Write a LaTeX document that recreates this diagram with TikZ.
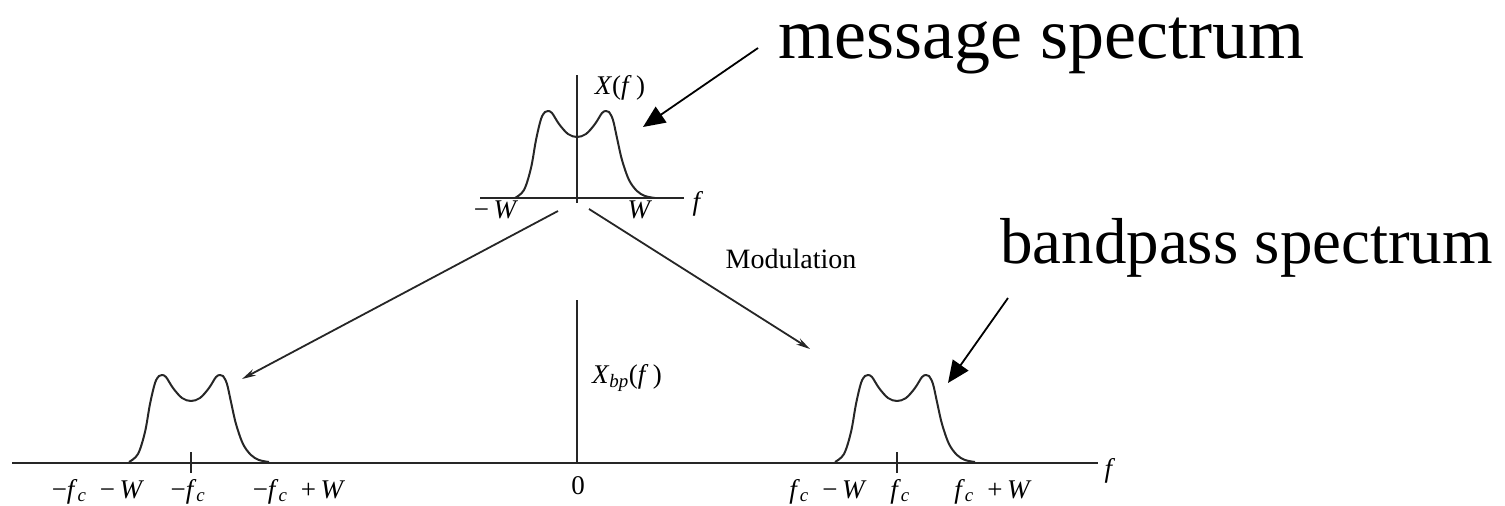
\documentclass[tikz,border=0pt]{standalone}
\usepackage{fontspec}
\setmainfont{Liberation Serif}
\usetikzlibrary{arrows.meta}
\tikzset{
  axisline/.style={line width=2pt, black!85},
  specline/.style={line width=2pt, black!85, line join=round},
  modarrow/.style={line width=1.8pt, black!85, -{Stealth[length=14pt,width=7pt]}},
  callout/.style={line width=1.8pt, -{Triangle[length=22pt,width=19pt]}},
  lbl/.style={font=\fontsize{27}{29}\selectfont, inner sep=0pt},
  biglbl/.style={font=\fontsize{65}{70}\selectfont, inner sep=0pt},
  msglbl/.style={font=\fontsize{72}{76}\selectfont, inner sep=0pt},
}
\newcommand\specbump[2]{%
  \draw[specline, shift={(#1,#2)}] plot[smooth, tension=0.55] coordinates {
    (-62,0) (-53,-8) (-46,-30) (-41,-58) (-36,-79) (-32,-86) (-29,-87)
    (-25,-85) (-18,-74) (-9,-64) (0,-61) (9,-64) (18,-74) (25,-85) (29,-87)
    (32,-86) (36,-78) (40,-60) (45,-38) (52,-18) (60,-7) (68,-2) (78,0)};}
\newcommand\fcsub{\textit{f}\textsubscript{\textit{c}}}
\begin{document}
\begin{tikzpicture}[x=1pt, y=-1pt]
\useasboundingbox (0,0) rectangle (1505,506);
% top spectrum
\draw[axisline] (480,198) -- (684,198);
\draw[axisline] (577,75) -- (577,203);
\specbump{577}{198}
\node[lbl] (xf) at (620,88) {\textit{X}(\textit{f}\,)};
\node[lbl, anchor=base] (ftop) at (698,210) {\textit{f}};
\node[lbl, anchor=base] (mw) at (496,218) {−\,\textit{W}};
\node[lbl, anchor=base] (pw) at (640,218) {\textit{W}};
% bottom spectrum
\draw[axisline] (12,463) -- (1098,463);
\draw[axisline] (577,300) -- (577,463);
\draw[axisline] (191,452) -- (191,473);
\draw[axisline] (897,452) -- (897,473);
\specbump{191}{462}
\specbump{897}{462}
\node[lbl] (xbp) at (627,378) {\textit{X}\textsubscript{\textit{bp}}(\textit{f}\,)};
\node[lbl, anchor=base] (zero) at (578,494) {0};
\node[lbl, anchor=base] (fbot) at (1110,477) {\textit{f}};
\node[lbl, anchor=base] (l1) at (98,498) {−\fcsub\enspace−\,\textit{W}};
\node[lbl, anchor=base] (l2) at (188,498) {−\fcsub};
\node[lbl, anchor=base] (l3) at (299,498) {−\fcsub\enspace+\,\textit{W}};
\node[lbl, anchor=base] (r1) at (828,498) {\fcsub\enspace−\,\textit{W}};
\node[lbl, anchor=base] (r2) at (900,498) {\fcsub};
\node[lbl, anchor=base] (r3) at (993,498) {\fcsub\enspace+\,\textit{W}};
% modulation arrows
\node[font=\fontsize{28}{30}\selectfont, inner sep=0pt] (mod) at (791,259) {Modulation};
\coordinate (ls) at (558,211);
\coordinate (le) at (242,379);
\coordinate (rs) at (589,209);
\coordinate (re) at (810,349);
\draw[modarrow] (ls) -- (le);
\draw[modarrow] (rs) -- (re);
% callouts
\node[msglbl, anchor=base west] (msg) at (778,58) {message spectrum};
\node[biglbl, anchor=base west] (bps) at (1000,263) {bandpass spectrum};
\coordinate (ms) at (758,48);
\coordinate (me) at (643,127);
\coordinate (bs) at (1008,298);
\coordinate (be) at (948,383);
\draw[callout] (ms) -- (me);
\draw[callout] (bs) -- (be);
\end{tikzpicture}
\end{document}
